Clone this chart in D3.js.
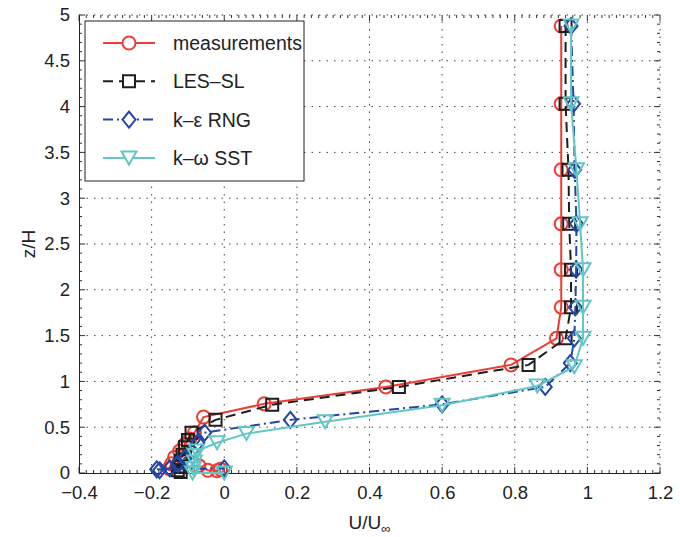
<!DOCTYPE html>
<html>
<head>
<meta charset="utf-8">
<script src="https://cdn.jsdelivr.net/npm/d3@7"></script>
<style>
  body { margin: 0; background: #fff; }
  text { font-family: "Liberation Sans", Arial, Helvetica, sans-serif; fill: #222; }
</style>
</head>
<body>
<div id="chart"></div>
<script>
// ---- data ----
const xTicks = [-0.4, -0.2, 0, 0.2, 0.4, 0.6, 0.8, 1, 1.2];
const yTicks = [0, 0.5, 1, 1.5, 2, 2.5, 3, 3.5, 4, 4.5, 5];

const measU = [0.928, 0.928, 0.928, 0.928, 0.928, 0.928, 0.915, 0.79, 0.445, 0.11, -0.057, -0.082, -0.095, -0.109, -0.123, -0.137, -0.145, -0.152, -0.07, -0.045, -0.02, -0.01];
const measZ = [4.88, 4.03, 3.31, 2.72, 2.22, 1.81, 1.47, 1.18, 0.94, 0.755, 0.61, 0.44, 0.37, 0.31, 0.24, 0.17, 0.10, 0.05, 0.08, 0.03, 0.025, 0.04];

const lesU = [0.94, 0.94, 0.948, 0.95, 0.955, 0.955, 0.94, 0.838, 0.481, 0.132, -0.024, -0.09, -0.10, -0.108, -0.115, -0.12, -0.125, -0.128, -0.12];
const lesZ = [4.88, 4.03, 3.31, 2.72, 2.22, 1.81, 1.47, 1.18, 0.94, 0.745, 0.58, 0.44, 0.36, 0.28, 0.20, 0.13, 0.07, 0.03, 0.01];

const rngU = [0.955, 0.962, 0.965, 0.97, 0.969, 0.967, 0.964, 0.953, 0.884, 0.6, 0.182, -0.054, -0.073, -0.09, -0.109, -0.128, -0.15, -0.178, -0.186, 0.0];
const rngZ = [4.88, 4.03, 3.31, 2.72, 2.22, 1.81, 1.47, 1.20, 0.94, 0.75, 0.58, 0.44, 0.33, 0.24, 0.16, 0.10, 0.05, 0.03, 0.04, 0.05];

const sstU = [0.955, 0.955, 0.97, 0.98, 0.988, 0.988, 0.988, 0.964, 0.862, 0.6, 0.278, 0.061, -0.02, -0.076, -0.08, -0.082, -0.085, -0.087, 0.0];
const sstZ = [4.88, 4.03, 3.31, 2.72, 2.22, 1.81, 1.47, 1.16, 0.95, 0.74, 0.56, 0.43, 0.33, 0.24, 0.19, 0.12, 0.05, 0.0, 0.0];

const seriesNames = ["measurements", "LES\u2013SL", "k\u2013\u03b5 RNG", "k\u2013\u03c9 SST"];

// ---- layout ----
const width = 680, height = 537;
const plotLeft = 79, plotRight = 660, plotTop = 15, plotBottom = 473;

const svg = d3.select("#chart").append("svg")
    .attr("width", width)
    .attr("height", height);

const x = d3.scaleLinear().domain([-0.4, 1.2]).range([plotLeft, plotRight]);
const y = d3.scaleLinear().domain([0, 5]).range([plotBottom, plotTop]);

//Grid (dotted), including the top and right edges
const grid = svg.append("g")
    .attr("stroke", "#444")
    .attr("stroke-width", 1)
    .attr("stroke-dasharray", "1.5,6");
grid.selectAll("line.gx").data(xTicks.slice(1)).enter().append("line")
    .attr("x1", d => x(d)).attr("x2", d => x(d))
    .attr("y1", plotBottom).attr("y2", plotTop);
grid.selectAll("line.gy").data(yTicks.slice(1)).enter().append("line")
    .attr("x1", plotLeft).attr("x2", plotRight)
    .attr("y1", d => y(d)).attr("y2", d => y(d));

//Ticks on all four sides (inward)
const minorX = d3.range(-0.4, 1.2001, 0.02).filter(v => Math.abs(Math.round(v / 0.2) * 0.2 - v) > 1e-6);
const minorY = d3.range(0, 5.0001, 0.1).filter(v => Math.abs(Math.round(v / 0.5) * 0.5 - v) > 1e-6);
const ticks = svg.append("g").attr("stroke", "#333").attr("stroke-width", 1);
xTicks.forEach(v => {
    ticks.append("line").attr("x1", x(v)).attr("x2", x(v)).attr("y1", plotBottom).attr("y2", plotBottom - 6);
    ticks.append("line").attr("x1", x(v)).attr("x2", x(v)).attr("y1", plotTop).attr("y2", plotTop + 6);
});
minorX.forEach(v => {
    ticks.append("line").attr("x1", x(v)).attr("x2", x(v)).attr("y1", plotBottom).attr("y2", plotBottom - 3);
    ticks.append("line").attr("x1", x(v)).attr("x2", x(v)).attr("y1", plotTop).attr("y2", plotTop + 3);
});
yTicks.forEach(v => {
    ticks.append("line").attr("x1", plotLeft).attr("x2", plotLeft + 6).attr("y1", y(v)).attr("y2", y(v));
    ticks.append("line").attr("x1", plotRight).attr("x2", plotRight - 6).attr("y1", y(v)).attr("y2", y(v));
});
minorY.forEach(v => {
    ticks.append("line").attr("x1", plotLeft).attr("x2", plotLeft + 3).attr("y1", y(v)).attr("y2", y(v));
    ticks.append("line").attr("x1", plotRight).attr("x2", plotRight - 3).attr("y1", y(v)).attr("y2", y(v));
});

//Solid left and bottom axes with labels
const fmt = d => d3.format("")(d).replace("-", "\u2212");
const xAxis = d3.axisBottom(x).tickValues(xTicks).tickSize(0).tickPadding(13).tickFormat(fmt);
const yAxis = d3.axisLeft(y).tickValues(yTicks).tickSize(0).tickPadding(9).tickFormat(fmt);
svg.append("g").attr("transform", "translate(0," + plotBottom + ")").call(xAxis)
    .call(g => g.select(".domain").attr("stroke", "#222"))
    .selectAll("text").attr("font-size", 18.5).attr("fill", "#222")
    .attr("font-family", "Liberation Sans, Arial, sans-serif");
svg.append("g").attr("transform", "translate(" + plotLeft + ",0)").call(yAxis)
    .call(g => g.select(".domain").attr("stroke", "#222"))
    .selectAll("text").attr("font-size", 18.5).attr("fill", "#222")
    .attr("font-family", "Liberation Sans, Arial, sans-serif");

//Axis titles
const xl = svg.append("text")
    .attr("x", (plotLeft + plotRight) / 2).attr("y", 529)
    .attr("text-anchor", "middle").attr("font-size", 19);
xl.append("tspan").text("U/U");
xl.append("tspan").text("\u221e").attr("font-size", 13).attr("dy", 4);
svg.append("text")
    .attr("transform", "translate(35," + ((plotTop + plotBottom) / 2) + ")rotate(-90)")
    .attr("text-anchor", "middle").attr("font-size", 19)
    .text("z/H");

//Marker shapes
const markers = {
    circle: "M6.5,0A6.5,6.5 0 1,1 -6.5,0A6.5,6.5 0 1,1 6.5,0Z",
    square: "M-6,-6H6V6H-6Z",
    diamond: "M0,-8L6.5,0L0,8L-6.5,0Z",
    triangle: "M-7.5,-6.5L7.5,-6.5L0,6.5Z"
};

const series = [
    {u: measU, z: measZ, color: "#ee3c33", dash: null, marker: markers.circle},
    {u: lesU, z: lesZ, color: "#1e1e1e", dash: "10,6", marker: markers.square},
    {u: rngU, z: rngZ, color: "#2446a6", dash: "10,4,2,4", marker: markers.diamond},
    {u: sstU, z: sstZ, color: "#63c6c6", dash: null, marker: markers.triangle}
];

const line = d3.line().x(d => x(d[0])).y(d => y(d[1]));

series.forEach(s => {
    let pts = s.u.map((u, i) => [u, s.z[i]]);
    let g = svg.append("g");
    g.append("path")
        .datum(pts)
        .attr("d", line)
        .attr("fill", "none")
        .attr("stroke", s.color)
        .attr("stroke-width", 2)
        .attr("stroke-dasharray", s.dash);
    g.selectAll("path.m").data(pts).enter().append("path")
        .attr("class", "m")
        .attr("d", s.marker)
        .attr("transform", d => "translate(" + x(d[0]) + "," + y(d[1]) + ")")
        .attr("fill", "none")
        .attr("stroke", s.color)
        .attr("stroke-width", 2);
});

//Legend
const legend = svg.append("g");
legend.append("rect")
    .attr("x", 85).attr("y", 21).attr("width", 219).attr("height", 160)
    .attr("fill", "#fff").attr("stroke", "#222").attr("stroke-width", 1);
series.forEach((s, i) => {
    let ly = 43 + i * 38.3;
    legend.append("line")
        .attr("x1", 103).attr("x2", 155).attr("y1", ly).attr("y2", ly)
        .attr("stroke", s.color).attr("stroke-width", 2)
        .attr("stroke-dasharray", s.dash);
    legend.append("path")
        .attr("d", s.marker)
        .attr("transform", "translate(129," + ly + ")")
        .attr("fill", "#fff").attr("stroke", s.color).attr("stroke-width", 2);
    legend.append("text")
        .attr("x", 173).attr("y", ly + 7)
        .attr("font-size", 19.5)
        .text(seriesNames[i]);
});
</script>
</body>
</html>
